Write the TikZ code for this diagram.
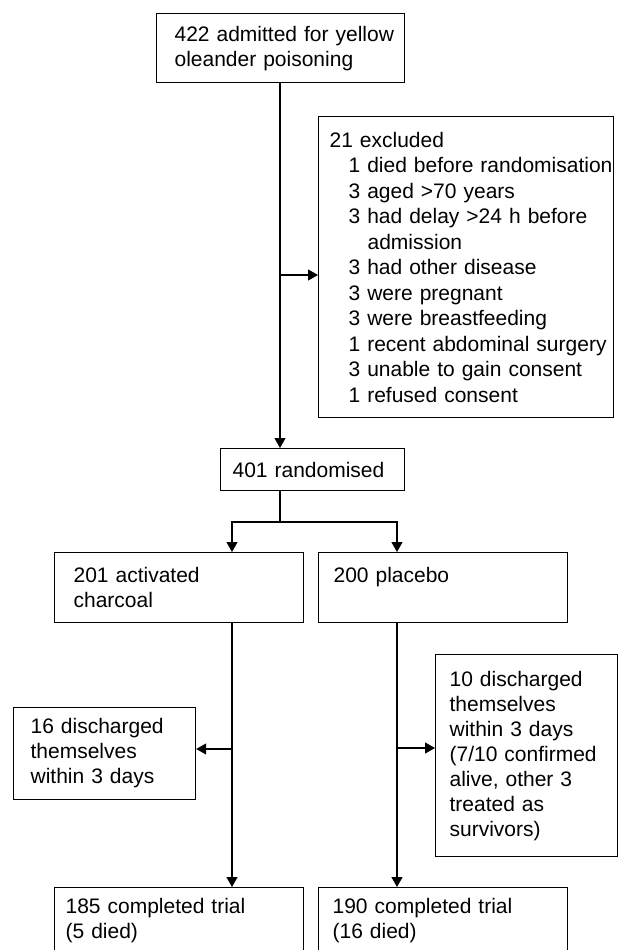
\documentclass[tikz,border=0pt]{standalone}
\usepackage{fontspec}
\setmainfont{Liberation Sans}
\usetikzlibrary{arrows.meta}
\newcommand{\exitem}{\hspace*{19pt}}

\begin{document}
\begin{tikzpicture}[x=1pt,y=-1pt,line width=1.2pt,
  box/.style={draw,anchor=north west,align=left,inner xsep=13pt,inner ysep=11pt,
    font=\fontsize{21}{25}\selectfont},
  arr/.style={-{Triangle[length=10pt,width=11pt]}}]
\useasboundingbox (0,0) rectangle (618,950);
\clip (0,0) rectangle (618,950);

\node[box,inner xsep=18pt,text width=212pt,minimum height=69pt] (admit) at (156,13) {\mbox{422 admitted for yellow}\\oleander poisoning};
\node[box,inner xsep=11pt,text width=273pt,minimum height=301pt,font=\fontsize{21}{25.5}\selectfont] (excl) at (318,116) {21 excluded\\
\exitem\mbox{1 died before randomisation}\\
\exitem 3 aged >70 years\\
\exitem\mbox{3 had delay >24 h before}\\
\exitem\exitem admission\\
\exitem 3 had other disease\\
\exitem 3 were pregnant\\
\exitem 3 were breastfeeding\\
\exitem\mbox{1 recent abdominal surgery}\\
\exitem\mbox{3 unable to gain consent}\\
\exitem 1 refused consent};
\node[box,inner xsep=12pt,text width=160pt,minimum height=42pt,inner ysep=2pt] (rand) at (220,448) {401 randomised};

\node[box,inner xsep=19pt,text width=211pt,minimum height=70pt] (ac) at (54,552) {201 activated\\charcoal};
\node[box,inner xsep=15pt,text width=219pt,minimum height=70pt] (pl) at (318,552) {200 placebo\\\mbox{}};

\node[box,inner xsep=17pt,text width=148pt,minimum height=91pt] (acout) at (13,707) {\mbox{16 discharged}\\themselves\\within 3 days};
\node[box,inner xsep=14pt,text width=154pt,minimum height=202pt] (plout) at (435,654) {10 discharged\\themselves\\within 3 days\\\mbox{(7/10 confirmed}\\alive, other 3\\treated as\\survivors)};

\node[box,inner xsep=11pt,text width=227pt] (acdone) at (54,887) {185 completed trial\\(5 died)};
\node[box,inner xsep=14pt,text width=221pt] (pldone) at (318,887) {190 completed trial\\(16 died)};

\coordinate (trunk) at (280,0);
\coordinate (exsplit) at (280,275);
\coordinate (split) at (280,522);
\coordinate (acx) at (232,0);
\coordinate (plx) at (397,0);
\coordinate (acsplit) at (232,749);
\coordinate (plsplit) at (397,748);

\draw[arr] (admit.south -| trunk) -- (rand.north -| trunk);
\draw[arr] (exsplit) -- (exsplit -| excl.west);
\draw (rand.south -| trunk) -- (split);
\draw[arr] (split) -| (ac.north -| acx);
\draw[arr] (split) -| (pl.north -| plx);
\draw[arr] (ac.south -| acx) -- (acdone.north -| acx);
\draw[arr] (pl.south -| plx) -- (pldone.north -| plx);
\draw[arr] (acsplit) -- (acsplit -| acout.east);
\draw[arr] (plsplit) -- (plsplit -| plout.west);
\end{tikzpicture}
\end{document}
